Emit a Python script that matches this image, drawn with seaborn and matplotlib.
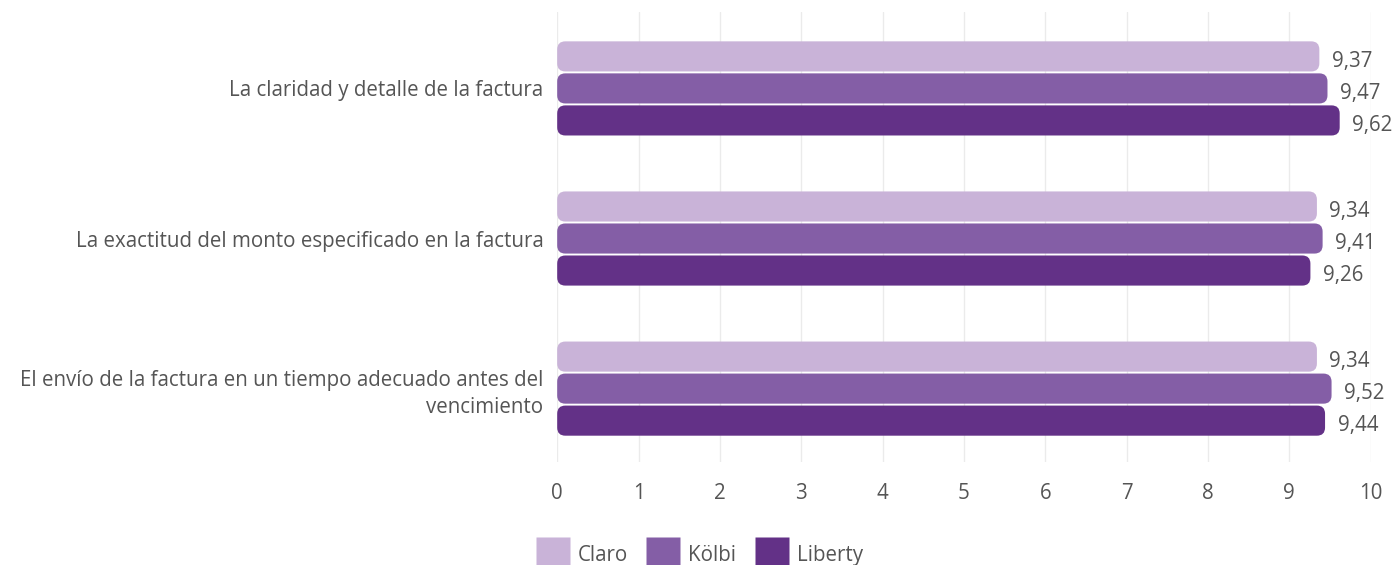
import pandas as pd
import matplotlib.pyplot as plt
import seaborn as sns
from matplotlib.patches import FancyBboxPatch
from matplotlib.lines import Line2D

# datos
categorias = [
    'La claridad y detalle de la factura',
    'La exactitud del monto especificado en la factura',
    'El envío de la factura en un tiempo adecuado antes del\nvencimiento',
]
operadores = ['Claro', 'Kölbi', 'Liberty']
claro = [9.37, 9.34, 9.34]
kolbi = [9.47, 9.41, 9.52]
liberty = [9.62, 9.26, 9.44]
colores = ['#C9B3D8', '#845EA6', '#633187']

df = pd.DataFrame({
    'categoria': categorias * 3,
    'operador': ['Claro'] * 3 + ['Kölbi'] * 3 + ['Liberty'] * 3,
    'valor': claro + kolbi + liberty,
})

sns.set_style('white')
plt.rcParams['font.family'] = ['Open Sans', 'DejaVu Sans']
gris = '#555555'
fs = 14.8

fig = plt.figure(figsize=(14, 5.65), dpi=100)
ax = fig.add_axes([0.398, 0.182, 0.581, 0.797])

sns.barplot(data=df, y='categoria', x='valor', hue='operador', hue_order=operadores,
            palette=colores, saturation=1, orient='h', width=0.64, gap=0.06,
            ax=ax, legend=False)

ax.set_xlim(0, 10)
ax.set_ylim(2.49, -0.51)

# redondear las barras
asp = (1 / 150) / (1 / 81.3)
for p in list(ax.patches):
    x, y = p.get_x(), p.get_y()
    w, h = p.get_width(), p.get_height()
    fc = p.get_facecolor()
    p.remove()
    fb = FancyBboxPatch((x, y), w, h, boxstyle='round,pad=0,rounding_size=0.1',
                        mutation_aspect=asp, fc=fc, ec='none', zorder=3)
    ax.add_patch(fb)
    etiqueta = f'{w:.2f}'.replace('.', ',')
    ax.annotate(etiqueta, (w, y + h / 2), xytext=(9, -3.5), textcoords='offset points',
                va='center', ha='left', fontsize=fs, color=gris)

ax.set_xticks(range(0, 11))
ax.grid(axis='x', color='#ebebeb', lw=1, zorder=0)
ax.set_axisbelow(True)
ax.tick_params(axis='x', length=0, pad=15, labelsize=fs, labelcolor=gris)
ax.tick_params(axis='y', length=0, pad=10, labelsize=fs, labelcolor=gris)
for lbl in ax.get_yticklabels():
    lbl.set_multialignment('right')
    lbl.set_linespacing(1.35)
ax.set_xlabel('')
ax.set_ylabel('')
sns.despine(ax=ax, left=True, bottom=True)

handles = [Line2D([], [], marker='s', ls='', markersize=25, markerfacecolor=c,
                  markeredgecolor='none') for c in colores]
fig.legend(handles, operadores, loc='lower center', bbox_to_anchor=(0.5, -0.035),
           ncol=3, frameon=False, fontsize=fs, labelcolor=gris, handletextpad=0.45,
           columnspacing=1.0, handlelength=1.5)

fig.savefig('out.png', dpi=100)
